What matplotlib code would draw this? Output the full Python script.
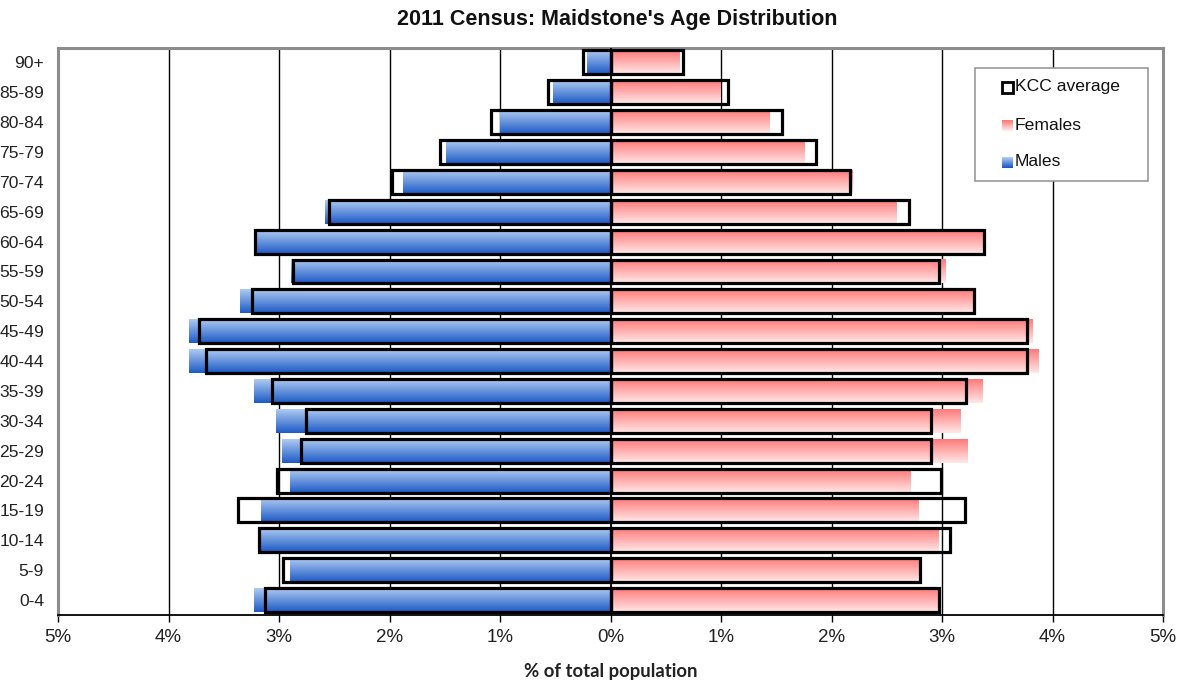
import numpy as np
import matplotlib
matplotlib.use('Agg')
import matplotlib.pyplot as plt
from matplotlib.patches import Rectangle
from matplotlib.colors import to_rgb

age_groups = ['0-4', '5-9', '10-14', '15-19', '20-24', '25-29', '30-34', '35-39',
              '40-44', '45-49', '50-54', '55-59', '60-64', '65-69', '70-74',
              '75-79', '80-84', '85-89', '90+']
males = [3.23, 2.90, 3.17, 3.16, 2.90, 2.97, 3.03, 3.23, 3.81, 3.81, 3.35, 2.89,
         3.21, 2.58, 1.88, 1.49, 1.00, 0.52, 0.21]
females = [2.96, 2.80, 2.96, 2.78, 2.71, 3.23, 3.16, 3.36, 3.87, 3.81, 3.27, 3.03,
           3.38, 2.58, 2.19, 1.75, 1.43, 0.99, 0.62]
kcc_males = [3.13, 2.96, 3.18, 3.37, 3.02, 2.80, 2.76, 3.06, 3.66, 3.72, 3.24, 2.87,
             3.22, 2.55, 1.98, 1.54, 1.08, 0.57, 0.25]
kcc_females = [2.97, 2.80, 3.07, 3.21, 2.99, 2.90, 2.90, 3.22, 3.77, 3.77, 3.29, 2.97,
               3.38, 2.70, 2.17, 1.86, 1.55, 1.06, 0.66]
xticks = [-5, -4, -3, -2, -1, 0, 1, 2, 3, 4, 5]
xtick_labels = ['5%', '4%', '3%', '2%', '1%', '0%', '1%', '2%', '3%', '4%', '5%']
legend_labels = ['KCC average', 'Females', 'Males']

plt.rcParams['font.family'] = ['Liberation Sans', 'DejaVu Sans']

W, H = 1189, 682
fig = plt.figure(figsize=(W / 100, H / 100), dpi=100)
ax = fig.add_axes([58 / W, 1 - 615 / H, 1105 / W, 567 / H])

y = np.arange(len(age_groups))
h = 0.8


def gradient(bottom, top, n=64):
    b = np.array(to_rgb(bottom))
    t = np.array(to_rgb(top))
    f = np.linspace(0, 1, n)[:, None]
    return (b + (t - b) * f)[:, None, :]


blue_grad = gradient('#1d59c6', '#aecbf1')
pink_grad = gradient('#ffe8e8', '#ff7a7a')

male_bars = ax.barh(y, [-v for v in males], height=h, color='none', zorder=2)
female_bars = ax.barh(y, females, height=h, color='none', zorder=2)

for bars, grad in ((male_bars, blue_grad), (female_bars, pink_grad)):
    for b in bars:
        x0, y0 = b.get_x(), b.get_y()
        w, hh = b.get_width(), b.get_height()
        ax.imshow(grad, extent=[x0, x0 + w, y0, y0 + hh], origin='lower',
                  aspect='auto', zorder=2, interpolation='bilinear')

ax.barh(y, [-v for v in kcc_males], height=h, fill=False, edgecolor='black',
        linewidth=2.3, zorder=3)
ax.barh(y, kcc_females, height=h, fill=False, edgecolor='black',
        linewidth=2.3, zorder=3)

for xv in [-4, -3, -2, -1, 1, 2, 3, 4]:
    ax.axvline(xv, color='black', linewidth=1.0, zorder=1)
ax.axvline(0, color='black', linewidth=1.3, zorder=4)

ax.set_xlim(-5, 5)
ax.set_ylim(-0.5, 18.48)
ax.set_xticks(xticks)
ax.set_xticklabels(xtick_labels, fontsize=13.5, color='#222222')
ax.set_yticks(y)
ax.set_yticklabels(age_groups, fontsize=12.6, color='#222222')
ax.tick_params(axis='y', length=0, pad=10)
ax.tick_params(axis='x', length=5, width=1, pad=5, direction='out')

for side in ('top', 'left', 'right'):
    ax.spines[side].set_color('#8c8c8c')
    ax.spines[side].set_linewidth(2.2)
ax.spines['bottom'].set_color('black')
ax.spines['bottom'].set_linewidth(1.3)

ax.set_xlabel('% of total population', fontsize=13.3, fontweight='bold',
              family=['Lato', 'DejaVu Sans'], labelpad=12, color='#222222')

fig.text(617 / W, 1 - 19 / H, "2011 Census: Maidstone's Age Distribution",
         ha='center', va='center', fontsize=15.5, fontweight='bold', color='#111111')

# legend (drawn manually to reproduce the boxed layout with gradient swatches)
fig.patches.append(Rectangle((975 / W, 1 - 181 / H), 173 / W, 113 / H,
                             transform=fig.transFigure, facecolor='white',
                             edgecolor='#999999', linewidth=1.2, zorder=6))
entry_y = [87, 125, 162]
sw = 11
for lab, py, kind in zip(legend_labels, entry_y, ['kcc', 'f', 'm']):
    left_px = 1002
    top_px = py - sw / 2
    if kind == 'kcc':
        fig.patches.append(Rectangle((left_px / W, 1 - (top_px + sw) / H), sw / W, sw / H,
                                     transform=fig.transFigure, facecolor='white',
                                     edgecolor='black', linewidth=2.0, zorder=7))
    else:
        grad = pink_grad if kind == 'f' else blue_grad
        n = grad.shape[0]
        for i in range(sw):
            c = grad[int((sw - 1 - i) / (sw - 1) * (n - 1)), 0]
            fig.patches.append(Rectangle((left_px / W, 1 - (top_px + i + 1) / H),
                                         sw / W, 1 / H, transform=fig.transFigure,
                                         facecolor=c, edgecolor='none',
                                         linewidth=0, zorder=7))
    fig.text(1015 / W, 1 - py / H, lab, ha='left', va='center', fontsize=12.6,
             color='#111111', zorder=8)

fig.savefig('out.png', dpi=100, facecolor='white')
